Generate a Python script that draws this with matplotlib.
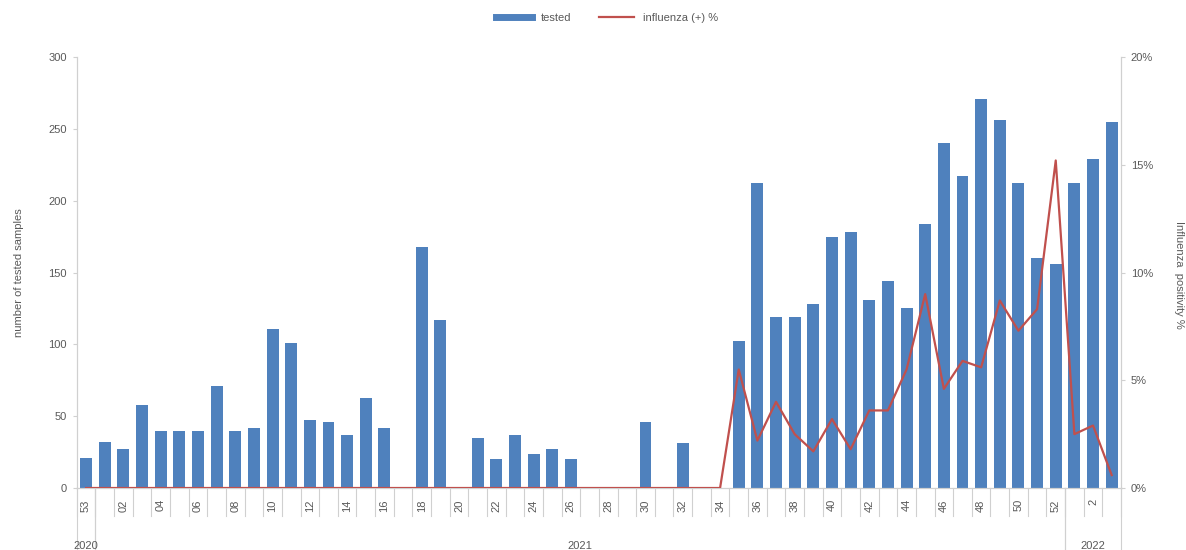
import numpy as np
import matplotlib
matplotlib.use("Agg")
import matplotlib.pyplot as plt
from matplotlib.lines import Line2D
from matplotlib.ticker import FuncFormatter

# weekly surveillance data: 2020 wk53, 2021 wk1-52, 2022 wk1-3
years = ["2020"] + ["2021"] * 52 + ["2022"] * 3
weeks = ["53",
         "01", "02", "03", "04", "05", "06", "07", "08", "09", "10",
         "11", "12", "13", "14", "15", "16", "17", "18", "19", "20",
         "21", "22", "23", "24", "25", "26", "27", "28", "29", "30",
         "31", "32", "33", "34", "35", "36", "37", "38", "39", "40",
         "41", "42", "43", "44", "45", "46", "47", "48", "49", "50",
         "51", "52",
         "1", "2", "3"]
tested = [21,
          32, 27, 58, 40, 40, 40, 71, 40, 42, 111,
          101, 47, 46, 37, 63, 42, 0, 168, 117, 0,
          35, 20, 37, 24, 27, 20, 0, 0, 0, 46,
          0, 31, 0, 0, 102, 212, 119, 119, 128, 175,
          178, 131, 144, 125, 184, 240, 217, 271, 256, 212,
          160, 156,
          212, 229, 255]
positivity = [0.0,
              0.0, 0.0, 0.0, 0.0, 0.0, 0.0, 0.0, 0.0, 0.0, 0.0,
              0.0, 0.0, 0.0, 0.0, 0.0, 0.0, 0.0, 0.0, 0.0, 0.0,
              0.0, 0.0, 0.0, 0.0, 0.0, 0.0, 0.0, 0.0, 0.0, 0.0,
              0.0, 0.0, 0.0, 0.0, 5.5, 2.2, 4.0, 2.5, 1.7, 3.2,
              1.8, 3.6, 3.6, 5.5, 9.0, 4.6, 5.9, 5.6, 8.7, 7.3,
              8.3, 15.2,
              2.5, 2.9, 0.6]

blue = "#4F81BD"
red = "#C0504D"
grey = "#D0D0D0"
txt = "#595959"

plt.rcParams['font.family'] = ['Liberation Sans', 'DejaVu Sans']
plt.rcParams['font.size'] = 8

fig = plt.figure(figsize=(11.86, 5.5), dpi=100)
ax = fig.add_axes([0.0647, 0.1127, 0.8805, 0.7836])
ax2 = ax.twinx()

x = np.arange(len(tested))
ax.bar(x, tested, width=0.64, color=blue, zorder=2)
ax2.plot(x, np.array(positivity) / 100, color=red, lw=1.6, zorder=3)

ax.set_xlim(-0.5, len(tested) - 0.5)
ax.set_ylim(0, 300)
ax.set_yticks(np.arange(0, 301, 50))
ax2.set_ylim(0, 0.2)
ax2.set_yticks(np.arange(0, 0.201, 0.05))
ax2.yaxis.set_major_formatter(FuncFormatter(lambda v, p: "{:.0f}%".format(v * 100)))

# every other week is labelled
ax.set_xticks(x[::2])
ax.set_xticklabels(weeks[::2], rotation=90, color=txt)
ax.tick_params(axis='x', length=0, pad=8)
ax.tick_params(axis='y', length=3, color=grey, labelcolor=txt, pad=4)
ax2.tick_params(axis='y', length=3, color=grey, labelcolor=txt, pad=4)

for a in (ax, ax2):
    a.spines['top'].set_visible(False)
    for s in ('left', 'right', 'bottom'):
        a.spines[s].set_color(grey)
        a.spines[s].set_linewidth(0.8)

# category separators below the axis
trans = ax.get_xaxis_transform()
for b in np.arange(-0.5, len(tested), 1.0):
    ax.plot([b, b], [0, -0.065], color=grey, lw=0.8, transform=trans, clip_on=False)

# year groups
yr_names = list(dict.fromkeys(years))
for yr in yr_names:
    idx = [i for i, v in enumerate(years) if v == yr]
    lo, hi = idx[0] - 0.5, idx[-1] + 0.5
    for b in (lo, hi):
        ax.plot([b, b], [0, -0.15], color=grey, lw=0.8, transform=trans, clip_on=False)
    ax.text((lo + hi) / 2, -0.135, yr, transform=trans, ha='center', va='center',
            color=txt, fontsize=8)

ax.set_ylabel("number of tested samples", color=txt, fontsize=8, labelpad=18)
fig.text(0.994, 0.5, "Influenza  positivity %", rotation=270, ha='center', va='center',
         color=txt, fontsize=8)

handles = [Line2D([], [], color=blue, lw=5), Line2D([], [], color=red, lw=1.6)]
fig.legend(handles, ["tested", "influenza (+) %"], loc='center', bbox_to_anchor=(0.512, 0.967),
           ncol=2, frameon=False, handlelength=3.2, columnspacing=2.5, labelcolor=txt)

fig.savefig("out.png", dpi=100)
